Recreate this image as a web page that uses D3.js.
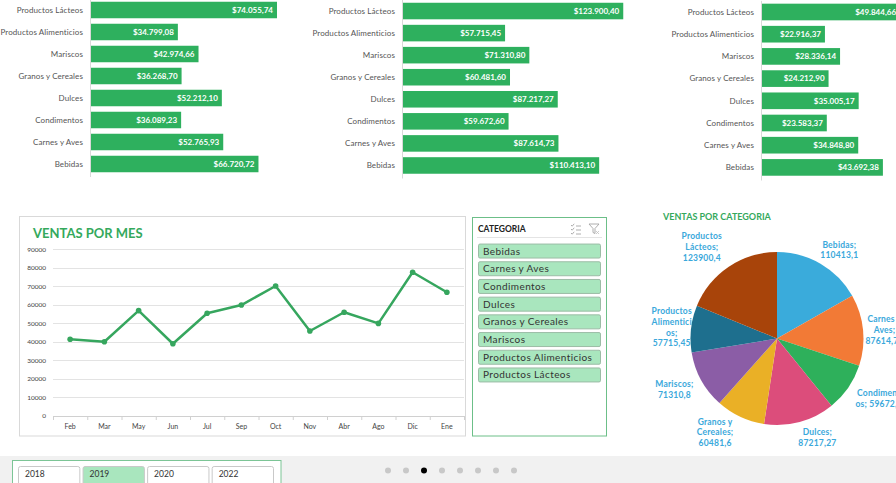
<!DOCTYPE html>
<html>
<head>
<meta charset="utf-8">
<script src="https://cdn.jsdelivr.net/npm/d3@7"></script>
<style>
  body { margin: 0; background: #fff; }
  svg { display: block; font-family: "Lato", "DejaVu Sans", sans-serif; }
</style>
</head>
<body>
<script>
// categorias, en el orden de las barras (de arriba a abajo)
var categorias = ["Productos Lácteos", "Productos Alimenticios", "Mariscos", "Granos y Cereales",
    "Dulces", "Condimentos", "Carnes y Aves", "Bebidas"];
var ventasPanel1 = [74055.74, 34799.08, 42974.66, 36268.70, 52212.10, 36089.23, 52765.93, 66720.72];
var ventasPanel2 = [123900.40, 57715.45, 71310.80, 60481.60, 87217.27, 59672.60, 87614.73, 110413.10];
var ventasPanel3 = [49844.66, 22916.37, 28336.14, 24212.90, 35005.17, 23583.37, 34848.80, 43692.38];

// ventas por mes
var meses = ["Feb", "Mar", "May", "Jun", "Jul", "Sep", "Oct", "Nov", "Abr", "Ago", "Dic", "Ene"];
var ventasMes = [41400, 40100, 56900, 39000, 55500, 59900, 70200, 45900, 56000, 50000, 77600, 66800];
var ticksMes = [0, 10000, 20000, 30000, 40000, 50000, 60000, 70000, 80000, 90000];

// pie (orden alfabetico, como el segmentador)
var pieCategorias = ["Bebidas", "Carnes y Aves", "Condimentos", "Dulces", "Granos y Cereales",
    "Mariscos", "Productos Alimenticios", "Productos Lácteos"];
var pieValores = [110413.1, 87614.73, 59672.6, 87217.27, 60481.6, 71310.8, 57715.45, 123900.4];
var pieNombreLineas = [["Bebidas;"], ["Carnes y", "Aves;"], ["Condiment", "os;"], ["Dulces;"],
    ["Granos y", "Cereales;"], ["Mariscos;"], ["Productos", "Alimentici", "os;"], ["Productos", "Lácteos;"]];
var pieColores = ["#3aabdb", "#f27a36", "#2eb05b", "#dc4d7b", "#eab026", "#8b5da6", "#1e6f8e", "#a8440a"];

var anios = ["2018", "2019", "2020", "2022"];
var anioSel = "2019";

var verde = "#2eb05e";
var svg = d3.select("body").append("svg").attr("width", 896).attr("height", 483);

var loc = d3.formatLocale({decimal: ",", thousands: ".", grouping: [3], currency: ["$", ""]});
var fmtMoneda = loc.format("$,.2f");

// ---------- barras superiores ----------
function drawBarPanel(values, x0, maxDom, x1, yTop, yBot) {
    var x = d3.scaleLinear().domain([0, maxDom]).range([x0, x1]);
    var y = d3.scaleBand().domain(categorias).range([yTop, yBot]).paddingInner(0.25).paddingOuter(0.125);
    var g = svg.append("g");
    g.selectAll("rect.bar").data(values).enter().append("rect")
        .attr("class", "bar")
        .attr("x", x(0))
        .attr("y", function(d, i) { return y(categorias[i]); })
        .attr("width", function(d) { return x(d) - x(0); })
        .attr("height", y.bandwidth())
        .attr("fill", verde);
    g.append("line")
        .attr("x1", x0 + 0.5).attr("x2", x0 + 0.5)
        .attr("y1", yTop).attr("y2", yBot + 2)
        .attr("stroke", "#d9d9d9");
    g.selectAll("text.cat").data(categorias).enter().append("text")
        .attr("class", "cat")
        .attr("x", x0 - 7)
        .attr("y", function(d) { return y(d) + y.bandwidth() / 2; })
        .attr("dy", "0.35em")
        .attr("text-anchor", "end")
        .attr("font-size", "8px")
        .attr("letter-spacing", "0.1px")
        .attr("fill", "#555")
        .text(function(d) { return d; });
    g.selectAll("text.val").data(values).enter().append("text")
        .attr("class", "val")
        .attr("x", function(d) { return x(d) - 4; })
        .attr("y", function(d, i) { return y(categorias[i]) + y.bandwidth() / 2; })
        .attr("dy", "0.35em")
        .attr("text-anchor", "end")
        .attr("font-size", "8px")
        .attr("font-weight", "bold")
        .attr("fill", "#fff")
        .text(function(d) { return fmtMoneda(d); });
}
drawBarPanel(ventasPanel1, 90, 80000, 292, -1, 175);
drawBarPanel(ventasPanel2, 402, 140000, 652, 0, 176.5);
drawBarPanel(ventasPanel3, 761, 50000, 900.5, 0.9, 178.5);

// ---------- ventas por mes ----------
svg.append("rect").attr("x", 19.5).attr("y", 216.5).attr("width", 446).attr("height", 219.5)
    .attr("fill", "#fff").attr("stroke", "#d9d9d9");
svg.append("text").attr("x", 33).attr("y", 238)
    .attr("font-size", "13px").attr("font-weight", "bold").attr("fill", "#34a95c")
    .text("VENTAS POR MES");

var xm = d3.scaleBand().domain(meses).range([53, 464]);
var ym = d3.scaleLinear().domain([0, 90000]).range([416, 249.3]);
var gm = svg.append("g");
gm.selectAll("line.grid").data(ticksMes.slice(1)).enter().append("line")
    .attr("x1", 53).attr("x2", 464)
    .attr("y1", function(d) { return Math.round(ym(d)) + 0.5; })
    .attr("y2", function(d) { return Math.round(ym(d)) + 0.5; })
    .attr("stroke", "#e3e3e3");
gm.append("line").attr("x1", 53).attr("x2", 464)
    .attr("y1", Math.round(ym(0)) + 0.5).attr("y2", Math.round(ym(0)) + 0.5)
    .attr("stroke", "#d0d0d0");
gm.selectAll("line.tk").data(meses.concat(["fin"])).enter().append("line")
    .attr("x1", function(d) { return (d == "fin" ? xm.range()[1] : xm(d)) + 0.5; })
    .attr("x2", function(d) { return (d == "fin" ? xm.range()[1] : xm(d)) + 0.5; })
    .attr("y1", ym(0)).attr("y2", ym(0) + 4)
    .attr("stroke", "#d0d0d0");
gm.selectAll("text.yl").data(ticksMes).enter().append("text")
    .attr("x", 46).attr("y", function(d) { return ym(d); })
    .attr("dy", "0.35em").attr("text-anchor", "end")
    .attr("font-size", "6.5px").attr("fill", "#444")
    .text(function(d) { return d; });
gm.selectAll("text.xl").data(meses).enter().append("text")
    .attr("x", function(d) { return xm(d) + xm.bandwidth() / 2; })
    .attr("y", 427).attr("dy", "0.35em").attr("text-anchor", "middle")
    .attr("font-size", "7px").attr("fill", "#444")
    .text(function(d) { return d; });

var linea = d3.line()
    .x(function(d, i) { return xm(meses[i]) + xm.bandwidth() / 2; })
    .y(function(d) { return ym(d); });
gm.append("path").attr("d", linea(ventasMes))
    .attr("fill", "none").attr("stroke", "#36a65e").attr("stroke-width", 2.5)
    .attr("stroke-linejoin", "round");
gm.selectAll("circle").data(ventasMes).enter().append("circle")
    .attr("cx", function(d, i) { return xm(meses[i]) + xm.bandwidth() / 2; })
    .attr("cy", function(d) { return ym(d); })
    .attr("r", 2.8).attr("fill", "#36a65e");

// ---------- segmentador categoria ----------
svg.append("rect").attr("x", 472.5).attr("y", 217.5).attr("width", 134).attr("height", 218.5)
    .attr("fill", "#fff").attr("stroke", "#6cbf88");
svg.append("text").attr("x", 478).attr("y", 232)
    .attr("font-size", "8.5px").attr("font-weight", "bold").attr("fill", "#222")
    .text("CATEGORIA");
svg.append("line").attr("x1", 477).attr("x2", 602).attr("y1", 237.5).attr("y2", 237.5)
    .attr("stroke", "#e4e4e4");
// iconos
var ic = svg.append("g").attr("stroke", "#9a9a9a").attr("fill", "none").attr("stroke-width", 0.8);
ic.append("path").attr("d", "M571,225 l1.2,1.2 l2,-2.4 M571,229 l1.2,1.2 l2,-2.4 M571,233 l1.2,1.2 l2,-2.4 M576,226 h5 M576,230 h5 M576,234 h5");
ic.append("path").attr("d", "M589,224 h10 l-4,4.5 v5 l-2,-1 v-4 z");
ic.append("path").attr("d", "M596,231 l3,3 M599,231 l-3,3").attr("stroke", "#c0c0c0");

var ys = d3.scaleBand().domain(pieCategorias).range([241.7, 383.3]).paddingInner(0.21).paddingOuter(0.105);
var gs = svg.append("g");
gs.selectAll("rect").data(pieCategorias).enter().append("rect")
    .attr("x", 478.5).attr("y", function(d) { return ys(d) + 0.5; })
    .attr("width", 122).attr("height", ys.bandwidth())
    .attr("rx", 1.5)
    .attr("fill", "#a9e6be").attr("stroke", "#9cbca6");
gs.selectAll("text").data(pieCategorias).enter().append("text")
    .attr("x", 483).attr("y", function(d) { return ys(d) + ys.bandwidth() / 2 + 0.5; })
    .attr("dy", "0.35em").attr("font-size", "10px").attr("letter-spacing", "0.4px").attr("fill", "#333")
    .text(function(d) { return d; });

// ---------- pie ----------
svg.append("text").attr("x", 663).attr("y", 219.5)
    .attr("font-size", "9px").attr("font-weight", "bold").attr("fill", "#34a95c")
    .text("VENTAS POR CATEGORIA");

var cx = 777, cy = 338.5, radio = 86.5;
var pie = d3.pie().sort(null).value(function(d) { return d; });
var arcos = pie(pieValores);
var arc = d3.arc().innerRadius(0).outerRadius(radio);
var arcEtq = d3.arc().innerRadius(108).outerRadius(108);
// ajuste fino de las etiquetas (best fit de excel)
var ajusteEtq = [[8, 5], [0, 2], [13, -1], [12, -5], [-16, -4], [-8, -1], [2, 1], [-15, -2]];
var gp = svg.append("g").attr("transform", "translate(" + cx + "," + cy + ")");

var etq = gp.selectAll("text").data(arcos).enter().append("text")
    .attr("text-anchor", "middle")
    .attr("font-size", "8.5px").attr("font-weight", "bold").attr("fill", "#3aa8db")
    .attr("letter-spacing", "0.2px")
    .attr("transform", function(d, i) {
        var c = arcEtq.centroid(d);
        return "translate(" + (c[0] + ajusteEtq[i][0]) + "," + (c[1] + ajusteEtq[i][1]) + ")";
    });
etq.each(function(d, i) {
    var lineas = pieNombreLineas[i].slice();
    var v = String(d.data).replace(".", ",");
    if (lineas[lineas.length - 1] == "os;" && pieCategorias[i] == "Condimentos") {
        lineas[lineas.length - 1] = "os; " + v;
    } else {
        lineas.push(v);
    }
    var t = d3.select(this);
    var n = lineas.length;
    lineas.forEach(function(l, k) {
        t.append("tspan").attr("x", 0)
            .attr("y", (k - (n - 1) / 2) * 10.7 + 3)
            .text(l);
    });
});

gp.selectAll("path").data(arcos).enter().append("path")
    .attr("d", arc)
    .attr("fill", function(d, i) { return pieColores[i]; });

// ---------- franja inferior ----------
svg.append("rect").attr("x", 0).attr("y", 456).attr("width", 896).attr("height", 27).attr("fill", "#f1f1f1");
svg.append("rect").attr("x", 12.5).attr("y", 460.5).attr("width", 268.5).attr("height", 30)
    .attr("fill", "#fff").attr("stroke", "#7cc596");
var xa = d3.scaleBand().domain(anios).range([18, 273]).paddingInner(0.05);
svg.selectAll("rect.anio").data(anios).enter().append("rect")
    .attr("class", "anio")
    .attr("x", function(d) { return xa(d) + 0.5; }).attr("y", 466.5)
    .attr("width", xa.bandwidth()).attr("height", 20).attr("rx", 2)
    .attr("fill", function(d) { return d == anioSel ? "#a9e6be" : "#fff"; })
    .attr("stroke", "#c9c9c9");
svg.selectAll("text.anio").data(anios).enter().append("text")
    .attr("class", "anio")
    .attr("x", function(d) { return xa(d) + 7; }).attr("y", 477)
    .attr("font-size", "8.5px").attr("fill", "#333")
    .text(function(d) { return d; });

var paginas = d3.range(8);
var xp = d3.scalePoint().domain(paginas).range([388, 514]);
svg.selectAll("circle.pag").data(paginas).enter().append("circle")
    .attr("class", "pag")
    .attr("cx", function(d) { return xp(d); }).attr("cy", 470.5).attr("r", 3)
    .attr("fill", function(d) { return d == 2 ? "#000" : "#c8c8c8"; });
</script>
</body>
</html>
